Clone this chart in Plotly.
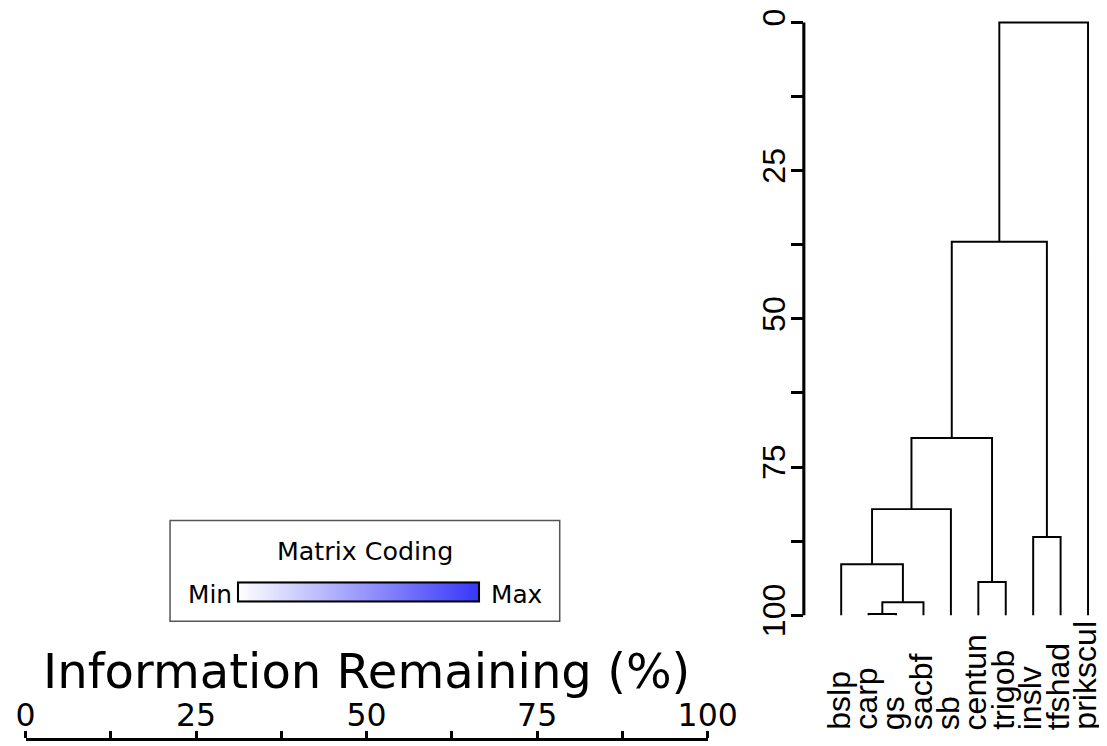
import plotly.graph_objects as go

# The page shows the figure with its origin at (AX, AY) of the 1107x746 picture,
# scaled by SX / SY; every position below is given in picture pixels and mapped back.
AX, AY = 17.5, 15.5
SX, SY = 0.963, 0.971
SA = (SX + SY) / 2
W, H = 1131, 760

# ---------------- data ----------------
leaf_labels = ["bslp", "carp", "gs", "sacbf", "sb", "centun", "trigob", "inslv", "tfshad", "prikscul"]
# dendrogram merges (node names m1..m9), children and merge heights (Information Remaining %)
merge_names = ["m1", "m2", "m3", "m4", "m5", "m6", "m7", "m8", "m9"]
merge_left = ["carp", "m1", "bslp", "m3", "centun", "m4", "inslv", "m6", "m8"]
merge_right = ["gs", "sacbf", "m2", "sb", "trigob", "m5", "tfshad", "m7", "prikscul"]
merge_height = [99.8, 97.8, 91.4, 82.1, 94.4, 70.1, 86.8, 37.0, 0.0]
leaf_height = 100.0

axis_tickvals = [0, 12.5, 25, 37.5, 50, 62.5, 75, 87.5, 100]
axis_ticktext = ["0", "", "25", "", "50", "", "75", "", "100"]

axis_title = "Information Remaining (%)"
legend_title = "Matrix Coding"
legend_min, legend_max = "Min", "Max"
legend_colors = [[0, "rgb(255,255,255)"], [1, "rgb(55,55,250)"]]


def fx(p):
    return (p - AX) / SX


def fy(p):
    return (p - AY) / SY


def px_x(p):
    """picture pixel (from left) -> paper fraction"""
    return fx(p) / W


def px_y(p):
    """picture pixel (from top) -> paper fraction"""
    return 1 - fy(p) / H


def sz(v, s=SA):
    return v / s


# ---------------- dendrogram coordinates ----------------
pos = {name: i for i, name in enumerate(leaf_labels)}
hgt = {name: leaf_height for name in leaf_labels}
xs, ys = [], []
for name, l, r, h in zip(merge_names, merge_left, merge_right, merge_height):
    xl, xr = pos[l], pos[r]
    xs += [xl, xl, xr, xr, None]
    ys += [hgt[l], h, h, hgt[r], None]
    pos[name] = (xl + xr) / 2
    hgt[name] = h

fig = go.Figure()

fig.add_trace(go.Scatter(
    x=xs, y=ys, xaxis="x2", yaxis="y2", mode="lines",
    line=dict(color="black", width=sz(1.9)), hoverinfo="skip", showlegend=False,
))

# colour legend (colorbar of an empty matrix trace)
fig.add_trace(go.Scatter(
    x=[None], y=[None], xaxis="x", yaxis="y", mode="markers", showlegend=False,
    marker=dict(
        color=[0], cmin=0, cmax=1, colorscale=legend_colors, showscale=True,
        colorbar=dict(
            orientation="h", x=px_x((241.7 + 474) / 2), xanchor="center",
            y=px_y(591), yanchor="middle",
            len=sz(232, SX), lenmode="pixels", thickness=sz(18, SY), thicknessmode="pixels",
            outlinewidth=sz(2), outlinecolor="black", showticklabels=False, ticks="",
            xpad=0, ypad=0, borderwidth=0,
        ),
    ),
))

sans = "DejaVu Sans"
arial = "Liberation Sans"

# leaf scale: leaf i at picture pixel 839.3 + 27.38*i
leaf0, step = 839.3, 27.38
x2_dom = (802, 1104)
x2_range = [(x2_dom[0] - leaf0) / step, (x2_dom[1] - leaf0) / step]
# height scale: 0 at picture pixel 19, 100 at picture pixel 613.3
h0, h100 = 19.0, 613.3
hstep = (h100 - h0) / 100
y2_dom = (AY + 0.5, 622)
y2_range = [(y2_dom[1] - h0) / hstep, (y2_dom[0] - h0) / hstep]

fig.update_layout(
    width=W, height=H,
    margin=dict(l=0, r=0, t=0, b=0),
    paper_bgcolor="white", plot_bgcolor="rgba(0,0,0,0)",
    showlegend=False,
    xaxis=dict(
        domain=[px_x(25), px_x(706)], range=[0, 100], anchor="y", side="top",
        showline=True, linewidth=sz(3, SY), linecolor="black", showgrid=False, zeroline=False,
        ticks="outside", ticklen=sz(6, SY), tickwidth=sz(2.5, SX), tickcolor="black",
        tickvals=axis_tickvals, ticktext=axis_ticktext, ticklabelstandoff=-7,
        ticklabeloverflow="allow",
        tickfont=dict(family=sans, size=sz(30.5), color="black"),
    ),
    yaxis=dict(domain=[0, px_y(739)], visible=False, range=[0, 1]),
    xaxis2=dict(domain=[px_x(x2_dom[0]), px_x(x2_dom[1])], range=x2_range, anchor="y2", visible=False),
    yaxis2=dict(
        domain=[px_y(y2_dom[1]), px_y(y2_dom[0])], range=y2_range, anchor="x2",
        showline=False, showgrid=False, zeroline=False,
        ticks="outside", ticklen=sz(11, SX), tickwidth=sz(2.5, SY), tickcolor="black",
        tickvals=axis_tickvals, ticktext=axis_ticktext, tickangle=-90,
        ticklabelstandoff=-6, ticklabeloverflow="allow",
        tickfont=dict(family=arial, size=sz(31), color="black"),
    ),
    shapes=[
        dict(type="line", xref="x2 domain", x0=0, x1=0, yref="y2", y0=0, y1=100,
             line=dict(color="black", width=sz(3, SX))),
        dict(type="rect", xref="paper", yref="paper",
             x0=px_x(169.3), x1=px_x(558.3), y0=px_y(619.3), y1=px_y(518.3),
             line=dict(color="#555555", width=1.5), layer="below"),
    ],
    annotations=[
        dict(text=axis_title, xref="x domain", yref="paper", x=0.5, y=px_y(669.4),
             xanchor="center", yanchor="middle", showarrow=False,
             font=dict(family=sans, size=sz(46.5), color="black")),
        dict(text=legend_title, xref="paper", yref="paper", x=px_x(364), y=px_y(548.5),
             xanchor="center", yanchor="middle", showarrow=False,
             font=dict(family=sans, size=sz(24.5), color="black")),
        dict(text=legend_min, xref="paper", yref="paper", x=px_x(233.5), y=px_y(593),
             xanchor="right", yanchor="middle", showarrow=False,
             font=dict(family=sans, size=sz(24), color="black")),
        dict(text=legend_max, xref="paper", yref="paper", x=px_x(487.5), y=px_y(593),
             xanchor="left", yanchor="middle", showarrow=False,
             font=dict(family=sans, size=sz(24), color="black")),
    ] + [
        dict(text=lab, xref="x2", yref="paper", x=i, y=px_y(730.5), textangle=-90,
             xanchor="center", yanchor="bottom", showarrow=False, xshift=-3,
             font=dict(family=arial, size=sz(31), color="black"))
        for i, lab in enumerate(leaf_labels)
    ],
)

fig.write_html("out.html")
